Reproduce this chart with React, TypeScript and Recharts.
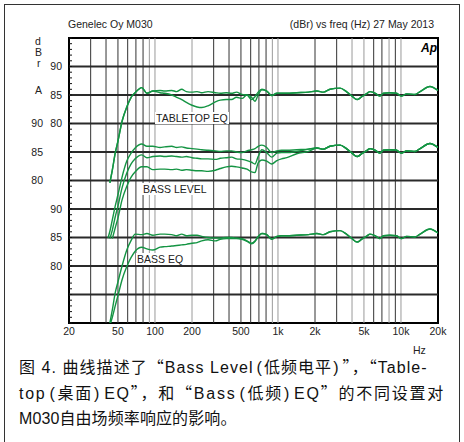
import React from 'react';
import { LineChart, Line, XAxis, YAxis, ReferenceLine, ReferenceArea } from 'recharts';

// sampled frequencies (Hz)
const FREQ_LOW = [41.5, 43, 45, 47.5, 50, 54, 59, 64, 69, 78, 86, 96, 110, 120, 137, 150, 165, 180, 200, 220, 240, 270, 310, 340, 380, 420, 460, 510, 560, 610, 650, 690, 740, 810, 890, 980, 1070, 1180, 1420, 1770];
const FREQ_HIGH = [2070, 2340, 2650, 3200, 3600, 4000, 4400, 4800, 5300, 5600, 6200, 6700, 7200, 8100, 9200, 10100, 11100, 13000, 14300, 17200, 20000];

// above ~2 kHz every curve follows the same response (dB)
const HF_TAIL = [85.7, 85.5, 86.0, 86.2, 85.6, 84.8, 84.2, 84.7, 85.3, 85.6, 85.3, 84.8, 85.3, 85.4, 85.3, 84.8, 85.2, 85.1, 85.6, 86.5, 85.8];

// low/mid part of each curve (dB), aligned with FREQ_LOW
const TABLETOP_OFF = [null, 69.6, 71.8, 74.8, 76.9, 80.4, 82.9, 84.6, 85.4, 86.3, 85.3, 85.7, 85.8, 85.7, 85.8, 85.6, 86.0, 85.6, 85.5, 85.6, 85.4, 85.6, 85.4, 85.3, 85.4, 85.3, 85.5, 85.1, 85.0, 84.2, 84.7, 85.5, 86.0, 85.7, 84.9, 85.3, 85.3, 85.3, 85.4, 85.5];
const TABLETOP_ON = [null, 69.6, 71.8, 74.8, 76.9, 80.4, 82.9, 84.6, 85.4, 86.3, 85.3, 85.7, 85.4, 85.3, 85.0, 84.6, 84.2, 83.7, 83.2, 82.9, 82.8, 83.1, 83.8, 84.1, 84.2, 84.2, 84.6, 84.4, 85.0, 84.6, 83.9, 85.0, 85.9, 85.7, 84.9, 85.3, 85.3, 85.3, 85.4, 85.5];
const BASS_LEVEL_0 = [69.9, 71.1, 73.1, 75.5, 77.5, 80.6, 83.4, 84.8, 85.7, 86.4, 86.0, 86.0, 85.8, 85.9, 86.0, 85.8, 85.9, 85.7, 85.6, 85.5, 85.4, 85.3, 85.2, 85.1, 85.2, 85.2, 85.0, 84.9, 85.2, 85.4, 85.6, 86.0, 86.2, 85.8, 84.9, 85.2, 85.3, 85.3, 85.4, 85.5];
const BASS_LEVEL_1 = [null, 69.8, 71.3, 73.6, 75.5, 78.7, 81.3, 82.9, 83.8, 84.5, 84.0, 84.2, 84.3, 84.2, 84.3, 84.2, 84.1, 84.2, 84.0, 83.9, 83.8, 83.8, 83.7, 83.9, 84.0, 84.1, 83.8, 83.7, 83.5, 83.2, 82.9, 84.2, 85.4, 84.9, 84.1, 84.8, 84.9, 84.9, 85.1, 85.5];
const BASS_LEVEL_2 = [null, null, 69.8, 71.7, 73.4, 76.6, 79.0, 80.6, 81.5, 82.4, 82.4, 81.9, 82.0, 82.0, 81.9, 82.0, 81.8, 81.9, 81.8, 81.7, 81.7, 81.6, 81.8, 82.1, 82.4, 82.5, 82.4, 82.2, 82.0, 81.5, 81.4, 83.1, 83.6, 83.4, 82.9, 83.5, 83.8, 84.0, 84.7, 85.1];
const BASS_EQ_OFF = [null, 70.0, 72.3, 75.3, 77.2, 80.0, 82.8, 84.5, 85.6, 85.5, 85.7, 85.4, 85.6, 85.6, 85.5, 85.3, 85.6, 85.3, 85.4, 85.4, 85.2, 85.0, 84.9, 84.9, 85.0, 85.0, 84.9, 84.8, 84.4, 84.0, 84.4, 85.2, 85.7, 85.5, 84.7, 85.2, 85.3, 85.3, 85.4, 85.5];
const BASS_EQ_ON = [null, 69.6, 71.0, 73.0, 74.8, 77.6, 79.9, 81.5, 82.6, 83.3, 83.0, 82.8, 83.3, 83.4, 83.5, 83.6, 83.7, 83.8, 84.0, 84.1, 84.4, 84.6, 84.4, 84.7, 84.8, 84.8, 84.8, 84.7, 84.3, 83.9, 84.3, 85.1, 85.7, 85.5, 84.7, 85.2, 85.3, 85.3, 85.4, 85.5];

// each group is shifted on the shared 0..50 grid
const SHIFT_TOP = 45;
const SHIFT_MID = 55;
const SHIFT_BOTTOM = 70;

const SERIES = [
  { key: 'tt0', low: TABLETOP_OFF, shift: SHIFT_TOP },
  { key: 'tt1', low: TABLETOP_ON, shift: SHIFT_TOP },
  { key: 'bl0', low: BASS_LEVEL_0, shift: SHIFT_MID },
  { key: 'bl1', low: BASS_LEVEL_1, shift: SHIFT_MID },
  { key: 'bl2', low: BASS_LEVEL_2, shift: SHIFT_MID },
  { key: 'be0', low: BASS_EQ_OFF, shift: SHIFT_BOTTOM },
  { key: 'be1', low: BASS_EQ_ON, shift: SHIFT_BOTTOM },
];

const FREQ = [...FREQ_LOW, ...FREQ_HIGH];
const data = FREQ.map((f, i) => {
  const row: any = { f };
  SERIES.forEach(s => {
    const db = [...s.low, ...HF_TAIL][i];
    row[s.key] = db == null ? null : db - s.shift;
  });
  return row;
});

const X_TICKS = [20, 50, 100, 200, 500, 1000, 2000, 5000, 10000, 20000];
const GRID_DARK = [30, 40, 50, 60, 70, 80, 300, 400, 500, 600, 700, 800, 2000, 3000, 6000, 7000, 9000];
const GRID_LIGHT = [90, 100, 200, 900, 1000, 4000, 5000, 8000, 10000];
const H_LINES = [5, 10, 15, 20, 25, 30, 35, 40, 45];

const TOP_DB = [90, 85, 80];
const MID_DB = [90, 85, 80];
const BOTTOM_DB = [90, 85, 80];
const Y_LABELS = [
  ...TOP_DB.map(d => ({ v: d - SHIFT_TOP, text: String(d), col: 62 })),
  ...MID_DB.map(d => ({ v: d - SHIFT_MID, text: String(d), col: 43 })),
  ...BOTTOM_DB.map(d => ({ v: d - SHIFT_BOTTOM, text: String(d), col: 62 })),
];
const MINOR_TICKS = Array.from({ length: 51 }, (_, i) => i);

const FONT = '"Liberation Sans", Arial, Helvetica, sans-serif';
const GREEN = '#149443';
const PLOT_LEFT = 69;

const YTick = (props: any) => {
  const { y, payload } = props;
  const labels = Y_LABELS.filter(l => l.v === payload.value);
  return (
    <g>
      <line x1={PLOT_LEFT} x2={PLOT_LEFT + 3} y1={y} y2={y} stroke="#111" strokeWidth={1} />
      {labels.map(l => (
        <text key={l.text + l.col} x={l.col} y={y} dy="0.35em" textAnchor="end" fontSize={10.5} fontFamily={FONT} fill="#222">
          {l.text}
        </text>
      ))}
    </g>
  );
};

const fmtHz = (v: number) => (v >= 1000 ? `${v / 1000}k` : `${v}`);

const txt = (left: number, cy: number, s: string, extra: any = {}) => (
  <div style={{ position: 'absolute', left, top: cy - 6, lineHeight: '12px', fontSize: 10.5, fontFamily: FONT, color: '#222', whiteSpace: 'nowrap', ...extra }}>{s}</div>
);

// full-width quote marks from the CJK font, narrow parentheses with a little air
const Q = ({ c }: { c: string }) => <span style={{ fontFamily: '"Noto Sans CJK SC"' }}>{c}</span>;
const P = ({ c }: { c: string }) => <span style={{ margin: c === '(' ? '0 1px 0 3px' : '0 3px 0 1px' }}>{c}</span>;

export default function App() {
  return (
    <div style={{ position: 'absolute', left: 0, top: 0, width: 464, height: 442, background: '#fff', overflow: 'hidden' }}>
      <div style={{ position: 'absolute', left: 4, top: 4, width: 456, height: 446, border: '1px solid #333', boxSizing: 'border-box' }} />

      {txt(68, 24, 'Genelec Oy M030')}
      <div style={{ position: 'absolute', left: 0, width: 434, top: 18, lineHeight: '12px', fontSize: 10.5, fontFamily: FONT, color: '#222', textAlign: 'right' }}>
        (dBr) vs freq (Hz) 27 May 2013
      </div>
      {txt(35, 41, 'd')}
      {txt(35, 52, 'B')}
      {txt(37, 63, 'r')}
      {txt(35, 90, 'A')}

      <div style={{ position: 'absolute', left: 0, top: 0 }}>
        <LineChart width={464} height={350} data={data} margin={{ top: 38, right: 26, bottom: 7, left: 0 }}>
          <XAxis
            dataKey="f"
            type="number"
            scale="log"
            domain={[20, 20000]}
            ticks={X_TICKS}
            interval={0}
            allowDataOverflow
            tickFormatter={fmtHz}
            tickLine={false}
            axisLine={false}
            tickSize={0}
            tickMargin={5}
            height={20}
            tick={{ fontSize: 10.5, fontFamily: FONT, fill: '#222' }}
          />
          <YAxis
            type="number"
            domain={[0, 50]}
            allowDataOverflow
            ticks={MINOR_TICKS}
            interval={0}
            tickLine={false}
            axisLine={false}
            width={69}
            tick={(p: any) => <YTick {...p} />}
          />
          {GRID_LIGHT.map(f => (
            <ReferenceLine key={'l' + f} x={f} stroke="#9a9a9a" strokeWidth={1} />
          ))}
          {GRID_DARK.map(f => (
            <ReferenceLine key={'d' + f} x={f} stroke="#333" strokeWidth={1} />
          ))}
          {H_LINES.map(v => (
            <ReferenceLine key={'h' + v} y={v} stroke="#2a2a2a" strokeWidth={2} />
          ))}
          {SERIES.map(s => (
            <Line
              key={s.key}
              dataKey={s.key}
              type="monotone"
              stroke={GREEN}
              strokeWidth={1.4}
              dot={false}
              connectNulls
              isAnimationActive={false}
            />
          ))}
          <ReferenceArea x1={20} x2={20000} y1={0} y2={50} fill="none" stroke="#000" strokeWidth={2} ifOverflow="visible" />
        </LineChart>
      </div>

      {txt(155, 118, 'TABLETOP EQ', { background: '#fff', padding: '0 1px' })}
      {txt(142, 189, 'BASS LEVEL', { background: '#fff', padding: '0 1px' })}
      {txt(136, 259, 'BASS EQ', { background: '#fff', padding: '0 1px' })}
      {txt(421, 48, 'Ap', { fontWeight: 'bold', fontStyle: 'italic', fontSize: 12, color: '#000' })}
      {txt(413, 350, 'Hz')}

      <div style={{ position: 'absolute', left: 19, top: 354, fontSize: 16, lineHeight: '25px', fontFamily: '"Liberation Sans", "Noto Sans CJK SC", sans-serif', color: '#111', whiteSpace: 'nowrap' }}>
        <div style={{ letterSpacing: 1.05 }}>
          图 4. 曲线描述了<Q c="“" />Bass Level<P c="(" />低频电平<P c=")" /><Q c="”" />，<Q c="“" />Table-
        </div>
        <div style={{ letterSpacing: 1.75 }}>
          top<P c="(" />桌面<P c=")" />EQ<Q c="”" />，和<Q c="“" />Bass<P c="(" />低频<P c=")" />EQ<Q c="”" />的不同设置对
        </div>
        <div style={{ letterSpacing: 0.1 }}>M030自由场频率响应的影响。</div>
      </div>
    </div>
  );
}
